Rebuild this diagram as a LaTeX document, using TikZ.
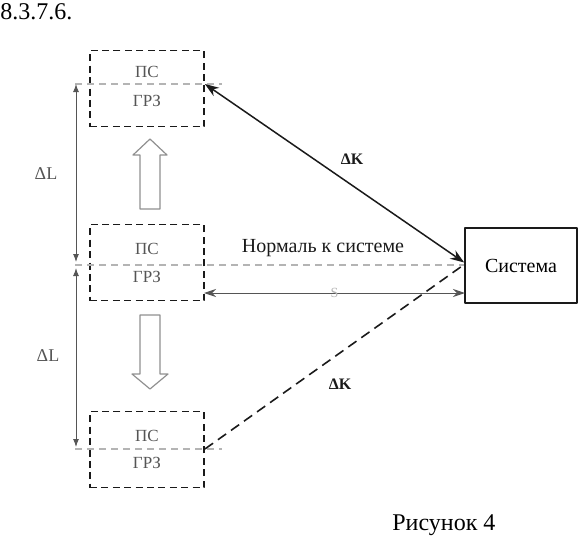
\documentclass[tikz,border=0pt]{standalone}
\usepackage{fontspec}
\setmainfont{Liberation Serif}
\usepackage{xcolor}
\usepackage{tikz}
\usetikzlibrary{arrows.meta,positioning,calc}
\definecolor{ink}{HTML}{1A1A1A}
\definecolor{soft}{HTML}{555555}
\definecolor{pale}{HTML}{B4B4B4}
\tikzset{
    every picture/.style={line join=round},
    posbox/.style={draw=ink,line width=0.9pt,dash pattern=on 3.5pt off 2.2pt,
      minimum width=57pt,minimum height=38pt,inner sep=0pt},
    sysbox/.style={draw=ink,line width=0.8pt,minimum width=56pt,minimum height=37.5pt,
      font=\fontsize{10}{12}\selectfont},
    boxtext/.style={text=soft,font=\fontsize{8.5}{10}\selectfont,inner sep=0pt},
    midline/.style={draw=pale,line width=0.6pt,dash pattern=on 3.5pt off 2.5pt},
    dimarrow/.style={{Latex[length=4pt,width=3pt]}-{Latex[length=4pt,width=3pt]},
      draw=soft,line width=0.5pt},
    blockarrow/.style={draw=pale!80!black,line width=0.6pt,fill=white},
    dklabel/.style={font=\fontsize{8}{9}\selectfont\bfseries,text=ink},
    dllabel/.style={font=\fontsize{9}{11}\selectfont,text=soft}
}
\begin{document}
\begin{tikzpicture}[x=0.5pt,y=-0.5pt]
  \useasboundingbox (0,0) rectangle (580,542);
  % positions of the system
  \node[posbox] (psTop) at (147,88.5) {};
  \node[posbox] (psMid) at (147,262.5) {};
  \node[posbox] (psBot) at (147,449.5) {};
  \node[sysbox] (sys) at (521,265.5) {Система};
  \node[boxtext] at (147,72) {ПС};
  \node[boxtext] at (147,101) {ГРЗ};
  \node[boxtext] at (147,249) {ПС};
  \node[boxtext] at (147,277) {ГРЗ};
  \node[boxtext] at (147,436) {ПС};
  \node[boxtext] at (147,463) {ГРЗ};
  % middle lines
  \coordinate (lTop) at (75,84);
  \coordinate (rTop) at (222,84);
  \coordinate (lMid) at (75,265);
  \coordinate (lBot) at (75,449);
  \coordinate (rBot) at (222,449);
  \coordinate (sLeft) at (204,293);
  \coordinate (sRight) at (465,293);
  \draw[midline] (lTop) -- (rTop);
  \draw[midline] (lMid) -- (sys.west|-lMid);
  \draw[midline] (lBot) -- (rBot);
  % dL
  \draw[dimarrow] ($(lTop)+(1,0)$) -- ($(lMid)+(1,-3)$);
  \draw[dimarrow] ($(lMid)+(1,3)$) -- ($(lBot)+(1,-2)$);
  \node[dllabel] at (46,174) {ΔL};
  \node[dllabel] at (48,356) {ΔL};
  % shift arrows
  \draw[blockarrow] (150,139) -- (167,155) -- (160,155) -- (160,209) -- (140,209)
    -- (140,155) -- (133,155) -- cycle;
  \draw[blockarrow] (150,389) -- (168,374) -- (160,374) -- (160,315) -- (140,315)
    -- (140,374) -- (132,374) -- cycle;
  % links to the system
  \draw[{Stealth[length=7pt,width=5pt]}-{Stealth[length=7pt,width=5pt]},draw=ink,line width=0.75pt]
    (psTop.east|-lTop) -- ($(sys.west)+(0,-3)$);
  \draw[{Stealth[length=6pt,width=4pt]}-{Stealth[length=6pt,width=4pt]},draw=soft,line width=0.5pt]
    (sLeft) -- node[text=pale,font=\fontsize{7}{8}\selectfont,inner sep=1pt]{S} (sRight);
  \draw[draw=ink,line width=0.8pt,dash pattern=on 5pt off 3pt]
    (psBot.east|-lBot) -- ($(sys.west)+(0,-1)$);
  \node[dklabel] at (352,159) {ΔK};
  \node[dklabel] at (340,384) {ΔK};
  \node[font=\fontsize{10}{12}\selectfont,text=ink] at (323,248) {Нормаль к системе};
  % captions
  \node[font=\fontsize{12}{14}\selectfont,anchor=west,inner sep=0pt] at (0,12) {8.3.7.6.};
  \node[font=\fontsize{12}{14}\selectfont,anchor=west,inner sep=0pt] at (392,525) {Рисунок 4};
\end{tikzpicture}
\end{document}
